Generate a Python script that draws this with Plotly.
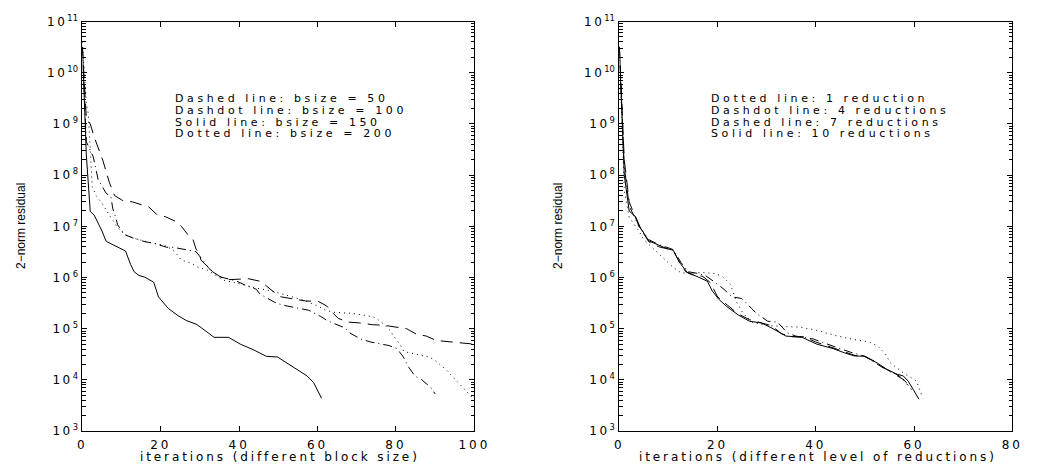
import plotly.graph_objects as go

# ---------------- data ----------------
# Left panel: different block size
it_b50 = [0, 1, 2, 3, 5.25, 6.9, 8.2, 10.25, 12.75, 15.7, 16.9, 19, 21.1, 24, 25.25, 26.9, 28.2, 29, 29.8,
          30.25, 31.9, 33.2, 35.7, 37.3, 40, 42.3, 45.25, 46.9, 49.4, 50.7, 54, 56.9, 60.25, 62.3, 64, 65.25,
          67.75, 70.7, 74, 76.9, 80.25, 82.75, 85.25, 87.75, 90.25, 93.2, 96, 100]
res_b50 = [3.2e10, 1.3e9, 1e9, 5.6e8, 1.9e8, 7.1e7, 4e7, 3.2e7, 3e7, 2.6e7, 2.4e7, 1.7e7, 1.55e7, 1.23e7, 1e7,
           6.9e6, 5.6e6, 3.6e6, 3e6, 2.2e6, 1.6e6, 1.3e6, 9.8e5, 9.1e5, 9.3e5, 9.5e5, 8.5e5, 6.9e5, 4.8e5,
           4.2e5, 3.8e5, 3.5e5, 3.4e5, 2.8e5, 2e5, 1.6e5, 1.35e5, 1.3e5, 1.2e5, 1.17e5, 1.07e5, 1e5, 7.8e4,
           7.2e4, 5.9e4, 5.6e4, 5.5e4, 5e4]

it_b100 = [0, 1, 2.75, 4, 6, 7.3, 7.75, 8.2, 9, 10.7, 12.75, 16, 18.2, 21.5, 23.2, 25.7, 29, 30.7, 32.3, 34.8,
           37, 39.4, 41.9, 44.4, 45.25, 49, 51, 54.8, 57.75, 60.7, 62.75, 66.9, 68.2, 71, 73.6, 78.2, 80.25,
           81.9, 83.2, 84.8, 86.5, 89, 90]
res_b100 = [3.2e10, 4.5e8, 2.3e8, 8.3e7, 4.5e7, 3.7e7, 2.2e7, 1.8e7, 1.07e7, 6.9e6, 6e6, 5e6, 4.7e6, 3.9e6,
            3.9e6, 3.6e6, 3.2e6, 2.2e6, 1.5e6, 1.05e6, 9.5e5, 8.5e5, 6.9e5, 5.9e5, 4.8e5, 3.3e5, 2.9e5,
            2.5e5, 2.3e5, 1.75e5, 1.4e5, 1.05e5, 8.3e4, 6.3e4, 5.5e4, 4.7e4, 4.1e4, 2.8e4, 1.8e4, 1.2e4,
            1.02e4, 7e3, 5.3e3]

it_b150 = [0, 1, 2, 3, 5, 6, 6.5, 11, 12.3, 13.2, 14.4, 15.9, 18.2, 19.4, 21.9, 24.4, 26.5, 29, 30.3, 33.6,
           37.3, 40.3, 43.6, 46.9, 49.8, 51.5, 53.6, 55.7, 57.3, 59, 60.1, 61]
res_b150 = [3.2e10, 2.5e8, 1.95e7, 1.66e7, 8.1e6, 5.2e6, 4.9e6, 3.3e6, 1.8e6, 1.3e6, 1.1e6, 1.02e6, 8.1e5,
            4.2e5, 2.5e5, 1.8e5, 1.45e5, 1.23e5, 1.05e5, 6.8e4, 6.8e4, 5e4, 3.9e4, 2.9e4, 2.8e4, 2.3e4,
            1.8e4, 1.4e4, 1.2e4, 8.9e3, 5.8e3, 4.4e3]

it_b200 = [0, 1, 1.5, 2, 2.5, 3.5, 5, 7.5, 9, 10.7, 12, 14, 16, 18, 20, 21.5, 23.6, 25.25, 27.75, 29.4, 31.9,
           33.6, 36, 40, 44, 48.2, 51.9, 56, 60, 62, 64, 68.6, 72.75, 74.8, 77, 78.6, 79.4, 81, 82, 84, 86.5,
           88.5, 90, 92.75, 95.25, 97.75, 99.5]
res_b200 = [4e10, 2.5e9, 1.6e9, 4e8, 6e7, 4e7, 2.8e7, 1.4e7, 9.5e6, 7e6, 6.3e6, 5.6e6, 5.1e6, 4.7e6, 4.4e6,
            4.1e6, 3.2e6, 2.2e6, 1.9e6, 1.6e6, 1.4e6, 1.15e6, 8.9e5, 7.6e5, 6.3e5, 5.5e5, 4.6e5, 3.7e5,
            2.8e5, 2.3e5, 2.1e5, 2e5, 1.8e5, 1.65e5, 1.2e5, 9.1e4, 7.2e4, 5e4, 3.6e4, 3.3e4, 3e4, 2.8e4,
            2.4e4, 1.6e4, 1e4, 6.2e3, 4.5e3]

# Right panel: different level of reductions
it_r1 = [0, 1, 2, 3, 4, 5, 7.3, 9, 10.9, 12.6, 14, 17, 19.5, 21, 22.6, 23.9, 25.2, 27, 30, 33.2, 36.9, 40.2,
         43.9, 47.2, 50.8, 52.5, 54.2, 55.2, 57.8, 60.5, 61.8]
res_r1 = [3.2e10, 5e7, 1.5e7, 1.1e7, 8e6, 5.5e6, 3.4e6, 2.3e6, 1.6e6, 1.23e6, 1.25e6, 1.25e6, 1.2e6, 1.05e6,
          7.4e5, 3.3e5, 2e5, 1.35e5, 1.15e5, 1.1e5, 1.07e5, 9.3e4, 7.4e4, 6.3e4, 5.5e4, 4.7e4, 3.2e4, 2.15e4,
          1.38e4, 9.5e3, 4.4e3]

it_r4 = [0, 1, 2, 3, 4, 6, 8, 10, 11, 12.5, 14, 16, 17.5, 19.6, 21.3, 22.9, 24.9, 26.9, 27.9, 30.2, 32.2,
         34.2, 35.9, 39.5, 41.5, 44, 47, 50, 53.8, 55.1, 57, 58.8]
res_r4 = [3.2e10, 1.5e8, 2.5e7, 1.6e7, 1e7, 5.5e6, 4.4e6, 3.8e6, 3.5e6, 2e6, 1.3e6, 1.2e6, 1.1e6, 7.9e5,
          5.9e5, 4.2e5, 3.9e5, 2.5e5, 2e5, 1.4e5, 1.35e5, 8.3e4, 7.2e4, 6.3e4, 5.3e4, 4.4e4, 3.5e4, 2.9e4,
          1.7e4, 1.5e4, 1.2e4, 7.8e3]

it_r7 = [0, 1, 2, 3, 4, 6, 8, 10, 11, 12, 13.5, 15, 17, 18.5, 20, 22, 24, 26.5, 29, 31, 33, 35, 37.5, 40, 43,
         46, 48, 50, 52, 54, 56, 58, 59.5]
res_r7 = [3.2e10, 2e8, 3e7, 1.7e7, 1e7, 5e6, 4e6, 3.6e6, 3.3e6, 2.2e6, 1.3e6, 1.15e6, 1.05e6, 8e5, 4.2e5,
          2.9e5, 2e5, 1.5e5, 1.3e5, 1.15e5, 8e4, 7e4, 7e4, 5.5e4, 4.4e4, 3.5e4, 3e4, 2.9e4, 2.3e4, 1.7e4,
          1.3e4, 1e4, 6.5e3]

it_r10 = [0, 1, 2, 3.3, 4.3, 6, 7.3, 9.6, 11, 12.2, 13.9, 15.6, 17.9, 18.9, 20.2, 21.9, 24.2, 26.5, 28.9,
          30.9, 33.9, 37.2, 40.2, 43.5, 45.8, 47.8, 49.8, 52.5, 54.5, 56.5, 57.8, 58.8, 59.8, 61]
res_r10 = [3.2e10, 1e8, 2e7, 1.55e7, 9.3e6, 5.2e6, 4.6e6, 3.7e6, 3.4e6, 2e6, 1.23e6, 1.07e6, 8.5e5, 5.5e5,
           3.8e5, 2.7e5, 1.86e5, 1.4e5, 1.3e5, 1.05e5, 7.2e4, 6.8e4, 5e4, 4.1e4, 3.4e4, 2.95e4, 2.9e4,
           2.15e4, 1.6e4, 1.3e4, 1.2e4, 9.5e3, 6.6e3, 4.2e3]

left_notes = ["Dashed line: bsize = 50", "Dashdot line: bsize = 100",
              "Solid line: bsize = 150", "Dotted line: bsize = 200"]
right_notes = ["Dotted line: 1 reduction", "Dashdot line: 4 reductions",
               "Dashed line: 7 reductions", "Solid line: 10 reductions"]
x_ticks_left = [0, 20, 40, 60, 80, 100]
x_ticks_right = [0, 20, 40, 60, 80]
y_exponents = list(range(3, 12))

# ---------------- styling ----------------
W, H = 1042, 471
FONT = "DejaVu Sans, Verdana, sans-serif"
YFONT = "Liberation Sans, Arial, Helvetica, sans-serif"


def sp(t, ls=3.0):
    return f"<span style='letter-spacing:{ls}px'>{t}</span>"


def px(p):
    return p / W


def py(p):
    return 1 - p / H


DASH = {"dashed": "12px,7px", "dashdot": "9px,4px,1px,4px", "solid": "solid", "dotted": "1px,4px"}

fig = go.Figure()


def add(x, y, style, xa, ya):
    fig.add_trace(go.Scatter(x=x, y=y, mode="lines", xaxis=xa, yaxis=ya, showlegend=False,
                             hoverinfo="skip",
                             line=dict(color="black", width=1, dash=DASH[style])))


add(it_b50, res_b50, "dashed", "x", "y")
add(it_b100, res_b100, "dashdot", "x", "y")
add(it_b150, res_b150, "solid", "x", "y")
add(it_b200, res_b200, "dotted", "x", "y")

add(it_r1, res_r1, "dotted", "x2", "y2")
add(it_r4, res_r4, "dashdot", "x2", "y2")
add(it_r7, res_r7, "dashed", "x2", "y2")
add(it_r10, res_r10, "solid", "x2", "y2")

minor_vals = [m * 10 ** k for k in range(3, 11) for m in range(2, 10)]
tickfont = dict(family=FONT, size=12, color="black")


def ycommon(anchor):
    return dict(type="log", range=[3, 11], tickmode="array", anchor=anchor,
                tickvals=[10 ** k for k in y_exponents],
                ticktext=[sp("10", 2.5) + f"<sup>{k}</sup>" for k in y_exponents],
                ticks="inside", ticklen=5, tickcolor="black", tickwidth=1,
                showline=True, linecolor="black", linewidth=1, mirror="allticks",
                showgrid=False, zeroline=False, tickfont=tickfont, ticklabelstandoff=1,
                minor=dict(tickmode="array", tickvals=minor_vals, ticks="inside", ticklen=3.5,
                           tickcolor="black", tickwidth=1, showgrid=False),
                domain=[py(437), py(13)])


def xcommon(rng, ticks, d, anchor):
    return dict(range=rng, tickmode="array", tickvals=ticks, ticktext=[sp(str(t)) for t in ticks],
                ticks="inside", ticklen=5, tickcolor="black", tickwidth=1, anchor=anchor,
                showline=True, linecolor="black", linewidth=1, mirror="allticks",
                showgrid=False, zeroline=False, tickfont=tickfont, ticklabelstandoff=2,
                domain=d)


annotations = []
for i, t in enumerate(left_notes):
    annotations.append(dict(text=sp(t, 3.6), x=px(172), y=py(93 + 12 * i), xref="paper", yref="paper",
                            xanchor="left", yanchor="middle", showarrow=False, borderpad=0,
                            font=dict(family=FONT, size=11, color="black")))
for i, t in enumerate(right_notes):
    annotations.append(dict(text=sp(t, 3.6), x=px(719), y=py(93 + 12 * i), xref="paper", yref="paper",
                            xanchor="left", yanchor="middle", showarrow=False, borderpad=0,
                            font=dict(family=FONT, size=11, color="black")))
for cx, t in [(281, "iterations (different block size)"),
              (830, "iterations (different level of reductions)")]:
    annotations.append(dict(text=sp(t, 2.9), x=px(cx), y=py(464), xref="paper", yref="paper",
                            xanchor="center", yanchor="middle", showarrow=False, borderpad=0,
                            font=dict(family=FONT, size=12, color="black")))
for cx in [17, 565]:
    annotations.append(dict(text="2\u2212norm residual", x=px(cx), y=py(225), xref="paper",
                            yref="paper", xanchor="center", yanchor="middle", showarrow=False,
                            textangle=-90, font=dict(family=YFONT, size=12, color="black")))

fig.update_layout(
    width=W, height=H, margin=dict(l=0, r=0, t=0, b=0),
    paper_bgcolor="white", plot_bgcolor="white",
    xaxis=xcommon([0, 100], x_ticks_left, [px(79), px(479)], "y"),
    xaxis2=xcommon([0, 80], x_ticks_right, [px(627), px(1028)], "y2"),
    yaxis=ycommon("x"),
    yaxis2=ycommon("x2"),
    annotations=annotations,
)

fig.write_html("out.html")
